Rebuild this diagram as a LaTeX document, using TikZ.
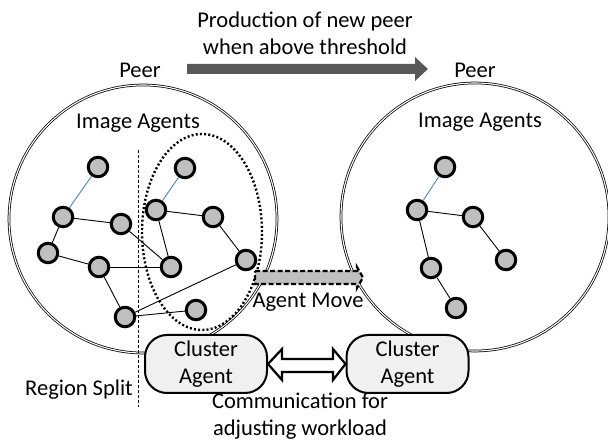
\documentclass[tikz,border=0pt]{standalone}
\usepackage{fontspec}
\setmainfont{Carlito}
\usetikzlibrary{shapes.geometric}
\definecolor{agentfill}{HTML}{BFBFBF}
\definecolor{bluelink}{HTML}{4F81BD}
\definecolor{bigarrow}{HTML}{595959}
\definecolor{clusterfill}{HTML}{F0F0F0}
\begin{document}
\begin{tikzpicture}[x=1pt,y=-1pt,
  every node/.style={font=\fontsize{22.5}{27}\selectfont},
  peer/.style={circle, draw=black, line width=0.75pt, double=white, double distance=1.1pt, minimum size=268pt, inner sep=0pt},
  agent/.style={circle, draw=black, line width=3pt, fill=agentfill, minimum size=19.5pt, inner sep=0pt},
  link/.style={draw=black, line width=0.9pt},
  blink/.style={draw=bluelink, line width=0.9pt},
  cluster/.style={rounded corners=22pt, draw=black, line width=2pt, fill=clusterfill, minimum width=122pt, minimum height=58pt, align=center, inner sep=0pt},
  txt/.style={align=center, inner sep=0pt}
]
\useasboundingbox (0,0) rectangle (608,443);

% peers
\node[peer] (P1) at (143,219) {};
\node[peer] (P2) at (475,217) {};

% dotted ellipse around moved agents
\node[ellipse, draw=black, line width=2.4pt, dash pattern=on 2pt off 2.2pt, minimum width=120pt, minimum height=196pt, inner sep=0pt] (EL) at (202,232) {};

% region split line
\coordinate (RS1) at (138,150);
\coordinate (RS2) at (138,407);
\draw[line width=0.7pt, dash pattern=on 3pt off 2pt] (RS1) -- (RS2);

% left agents
\node[agent] (A) at (98,167) {};
\node[agent] (B) at (63,217) {};
\node[agent] (C) at (121,224) {};
\node[agent] (D) at (48,253) {};
\node[agent] (E) at (99,267) {};
\node[agent] (F) at (125,317) {};
\node[agent] (G) at (185,168) {};
\node[agent] (H) at (156,210) {};
\node[agent] (I) at (213,217) {};
\node[agent] (J) at (171,267) {};
\node[agent] (K) at (246,260) {};
\node[agent] (L) at (196,310) {};

% right agents
\node[agent] (a) at (445,167) {};
\node[agent] (b) at (417,210) {};
\node[agent] (c) at (473,217) {};
\node[agent] (d) at (431,268) {};
\node[agent] (e) at (506,260) {};
\node[agent] (f) at (456,308) {};

% links
\draw[blink] (A) -- (B);
\draw[link] (B) -- (C);
\draw[link] (B) -- (D);
\draw[link] (D) -- (E);
\draw[link] (C) -- (J);
\draw[link] (E) -- (J);
\draw[link] (E) -- (F);
\draw[link] (F) -- (K);
\draw[link] (F) -- (L);
\draw[blink] (G) -- (H);
\draw[link] (H) -- (I);
\draw[link] (H) -- (J);
\draw[link] (I) -- (K);

\draw[blink] (a) -- (b);
\draw[link] (b) -- (c);
\draw[link] (b) -- (d);
\draw[link] (d) -- (f);
\draw[link] (c) -- (e);

% texts
\node[txt] (T1) at (305,33) {Production of new peer\\when above threshold};
\node[txt] (PL) at (140,70) {Peer};
\node[txt] (PR) at (475,70) {Peer};
\node[txt] (IA1) at (138,123) {Image Agents};
\node[txt] (IA2) at (480,122) {Image Agents};
\node[txt] (AM) at (308,302) {Agent Move};
\node[txt] (RS) at (79,390) {Region Split};
\node[txt] (CM) at (300,416) {Communication for\\adjusting workload};

% big production arrow
\coordinate (BA1) at (187,69);
\coordinate (BA2) at (428,69);
\fill[bigarrow] (187,64) -- (415,64) -- (415,57) -- (BA2) -- (415,81) -- (415,74) -- (187,74) -- cycle;

% agent move arrow
\coordinate (AM1) at (255,277.5);
\coordinate (AM2) at (363,277.5);
\draw[fill=agentfill, line width=2.2pt, dash pattern=on 5pt off 2.5pt] (255,271) -- (357,271) -- (357,267) -- (AM2) -- (357,288) -- (357,284) -- (255,284) -- cycle;

% cluster agents
\node[cluster] (CA1) at (206,364) {Cluster\\Agent};
\node[cluster] (CA2) at (407.5,364) {Cluster\\Agent};

% double hollow arrow between cluster agents
\draw[fill=white, line width=2.2pt, line join=miter] (CA1.east) -- (282,349) -- (282,359) -- (333,359) -- (333,349) -- (CA2.west) -- (333,380) -- (333,372) -- (282,372) -- (282,380) -- cycle;

\end{tikzpicture}
\end{document}
